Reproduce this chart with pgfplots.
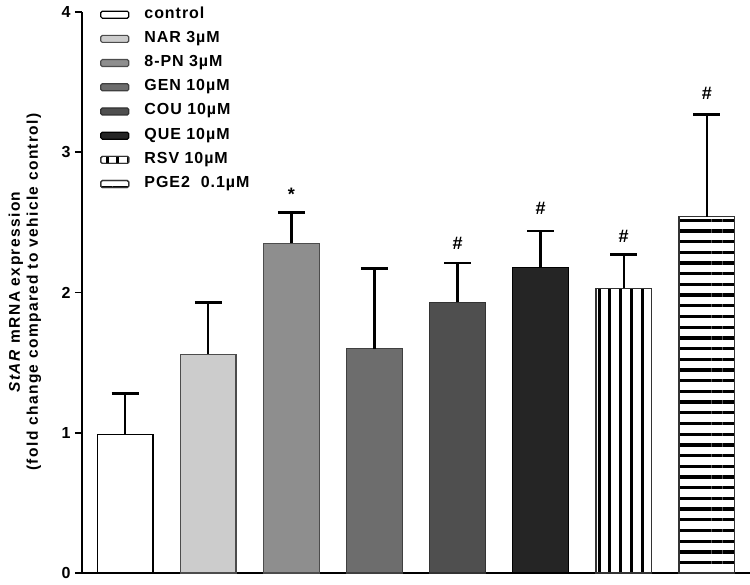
\documentclass[border=0pt]{standalone}
\usepackage{fontspec}
\setmainfont{Liberation Sans}[LetterSpace=6]
\newfontfamily\lblfont{Liberation Sans}[LetterSpace=9]
\usepackage{pgfplots}
\pgfplotsset{compat=1.18}
\usetikzlibrary{patterns.meta}
\definecolor{cNAR}{HTML}{CCCCCC}
\definecolor{cPN}{HTML}{8E8E8E}
\definecolor{cGEN}{HTML}{6D6D6D}
\definecolor{cCOU}{HTML}{4F4F4F}
\definecolor{cQUE}{HTML}{252525}
\begin{document}
\begin{tikzpicture}
\path[use as bounding box] (-82pt,-11pt) rectangle (668pt,573pt);
\begin{axis}[
  at={(0pt,0pt)}, anchor=south west,
  scale only axis, width=668pt, height=561pt,
  xmin=-0.52, xmax=7.52, ymin=0, ymax=4,
  axis lines*=left,
  axis line style={line width=2.2pt},
  xtick=\empty,
  ytick={0,1,2,3,4},
  tick align=outside,
  major tick length=7pt,
  y tick style={line width=1.8pt, black},
  tick label style={font=\fontsize{16}{18}\selectfont\bfseries},
  /pgf/number format/assume math mode=true,
  yticklabel style={xshift=-1pt},
  ybar, bar width=0.67, bar shift=0pt,
  every axis plot/.append style={line width=1.3pt},
  error bars/y dir=plus, error bars/y explicit,
  error bars/error bar style={line width=2.4pt, black},
  error bars/error mark options={rotate=90, mark size=13.5pt, line width=2.4pt, black},
  legend image code/.code={\draw[#1, line width=1.2pt, rounded corners=1.5pt] (0pt,-3.5pt) rectangle (28pt,3.5pt);},
  legend style={at={(rel axis cs:0,1)}, anchor=north west, xshift=18pt, yshift=4pt,
    draw=none, fill=none, inner sep=0pt, row sep=11.2pt,
    font=\fontsize{16}{18}\selectfont\bfseries,
    nodes={inner sep=0pt, text height=10pt, text depth=3pt, anchor=west},
    /tikz/every odd column/.append style={column sep=15pt}},
  legend cell align=left,
  clip=false,
]
\addplot[fill=white, draw=black] coordinates {(0,0.99) +- (0,0.29)};
\addplot[fill=cNAR, draw=black!70] coordinates {(1,1.56) +- (0,0.37)};
\addplot[fill=cPN, draw=black!70] coordinates {(2,2.35) +- (0,0.22)};
\addplot[fill=cGEN, draw=black!75] coordinates {(3,1.60) +- (0,0.57)};
\addplot[fill=cCOU, draw=black!80] coordinates {(4,1.93) +- (0,0.28)};
\addplot[fill=cQUE, draw=black] coordinates {(5,2.18) +- (0,0.26)};
\addplot[fill=white, postaction={pattern={Lines[angle=90, distance=10.7pt, line width=3pt]}, pattern color=black}, draw=black!80] coordinates {(6,2.03) +- (0,0.24)};
\addplot[fill=white, postaction={pattern={Lines[angle=0, distance=10.7pt, line width=3.3pt]}, pattern color=black}, draw=black!80] coordinates {(7,2.54) +- (0,0.73)};
\legend{control, NAR 3µM, 8-PN 3µM, GEN 10µM, COU 10µM, QUE 10µM, RSV 10µM, PGE2\ \ 0.1µM}
\node[font=\fontsize{18}{20}\selectfont\bfseries] at (axis cs:2,2.70) {*};
\node[font=\fontsize{18}{20}\selectfont\bfseries] at (axis cs:4,2.35) {\#};
\node[font=\fontsize{18}{20}\selectfont\bfseries] at (axis cs:5,2.60) {\#};
\node[font=\fontsize{18}{20}\selectfont\bfseries] at (axis cs:6,2.40) {\#};
\node[font=\fontsize{18}{20}\selectfont\bfseries] at (axis cs:7,3.42) {\#};
\end{axis}
\node[rotate=90, align=center, font=\lblfont\fontsize{15.5}{18}\selectfont\bfseries] at (-57pt,281pt)
  {\textit{StAR} mRNA expression\\(fold change compared to vehicle control)};
\end{tikzpicture}
\end{document}
